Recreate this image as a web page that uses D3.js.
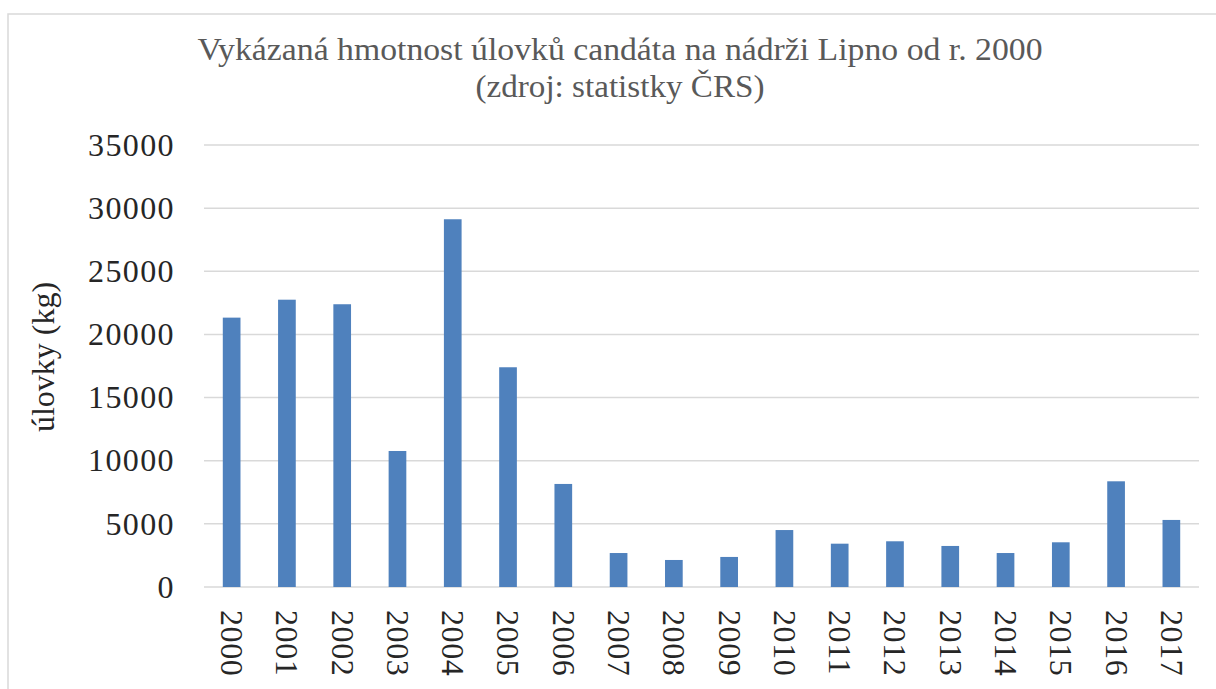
<!DOCTYPE html>
<html>
<head>
<meta charset="utf-8">
<style>
  body { margin: 0; background: #fff; }
  svg text { font-family: "Liberation Serif", "DejaVu Serif", serif; }
</style>
<script src="https://d3js.org/d3.v7.min.js"></script>
</head>
<body>
<div id="chart"></div>
<script>
// data
var years = ["2000","2001","2002","2003","2004","2005","2006","2007","2008",
             "2009","2010","2011","2012","2013","2014","2015","2016","2017"];
var catches = [21330, 22750, 22390, 10770, 29120, 17400, 8160, 2690, 2140,
               2380, 4510, 3430, 3620, 3250, 2690, 3540, 8370, 5310];
var yTicks = [0, 5000, 10000, 15000, 20000, 25000, 30000, 35000];
var titleLines = ["Vykázaná hmotnost úlovků candáta na nádrži Lipno od r. 2000",
                  "(zdroj: statistky ČRS)"];
var yTitle = "úlovky (kg)";

var W = 1216, H = 689;
var plot = {left: 204, right: 1199, top: 145, bottom: 587};

var svg = d3.select("#chart").append("svg")
    .attr("width", W).attr("height", H);

// chart area border (runs off the right and bottom of the picture)
svg.append("rect")
    .attr("x", 8).attr("y", 14)
    .attr("width", 1300).attr("height", 800)
    .attr("fill", "#fff")
    .attr("stroke", "#d9d9d9")
    .attr("stroke-width", 1.5);

var x = d3.scaleBand()
    .domain(years)
    .range([plot.left, plot.right])
    .paddingInner(0.68)
    .paddingOuter(0.34);

var y = d3.scaleLinear()
    .domain([0, 35000])
    .range([plot.bottom, plot.top]);

// gridlines
svg.append("g")
    .selectAll("line")
    .data(yTicks)
    .join("line")
    .attr("x1", plot.left).attr("x2", plot.right)
    .attr("y1", d => y(d)).attr("y2", d => y(d))
    .attr("stroke", "#d9d9d9")
    .attr("stroke-width", 1.5);

// y axis labels
var yAxis = d3.axisLeft(y).tickValues(yTicks).tickSize(0).tickPadding(0)
    .tickFormat(d3.format("d"));
var gy = svg.append("g")
    .attr("transform", "translate(" + 175 + ",0)")
    .call(yAxis);
gy.select(".domain").remove();
gy.selectAll("text")
    .attr("font-family", "Liberation Serif, serif")
    .attr("font-size", 32)
    .attr("letter-spacing", 1.4)
    .attr("fill", "#262626");

// bars
svg.append("g")
    .selectAll("rect")
    .data(catches)
    .join("rect")
    .attr("x", (d, i) => x(years[i]))
    .attr("width", x.bandwidth())
    .attr("y", d => y(d))
    .attr("height", d => y(0) - y(d))
    .attr("fill", "#4f81bd");

// x axis labels, rotated
var xAxis = d3.axisBottom(x).tickSize(0).tickPadding(0);
var gx = svg.append("g")
    .attr("transform", "translate(0," + plot.bottom + ")")
    .call(xAxis);
gx.select(".domain").remove();
gx.selectAll("text")
    .attr("font-family", "Liberation Serif, serif")
    .attr("font-size", 32)
    .attr("letter-spacing", 0.6)
    .attr("fill", "#262626")
    .attr("text-anchor", "start")
    .attr("transform", "translate(0,23) rotate(90)")
    .attr("x", 0).attr("y", 0)
    .attr("dy", "0.33em");

// y axis title
svg.append("text")
    .attr("transform", "translate(54,357) rotate(-90)")
    .attr("text-anchor", "middle")
    .attr("font-size", 32)
    .attr("fill", "#262626")
    .text(yTitle);

// chart title
var tWidths = [845, 289];
svg.append("g").selectAll("text")
    .data(titleLines)
    .join("text")
    .attr("x", 620)
    .attr("y", (d, i) => 60 + i * 37)
    .attr("text-anchor", "middle")
    .attr("font-size", 32)
    .attr("fill", "#595959")
    .text(d => d)
    .each(function(d, i) {
        var w = this.getComputedTextLength();
        if (Math.abs(w - tWidths[i]) > 4) {
            d3.select(this).attr("textLength", tWidths[i])
                .attr("lengthAdjust", "spacingAndGlyphs");
        }
    });
</script>
</body>
</html>
